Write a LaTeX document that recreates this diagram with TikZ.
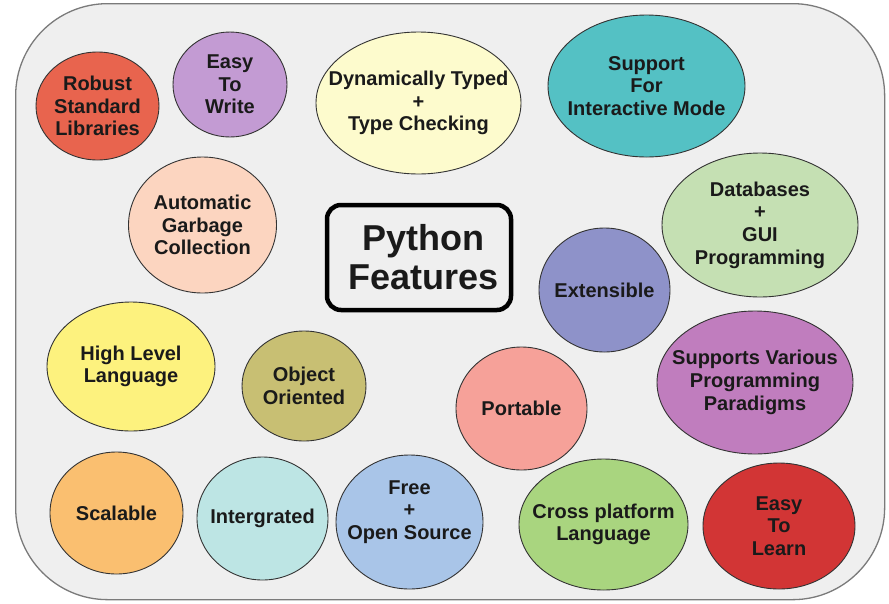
\documentclass[tikz,border=0pt]{standalone}
\usepackage{fontspec}
\setmainfont{Liberation Sans}
\usetikzlibrary{shapes.geometric}

% bubble fill colours
\definecolor{cRobust}{HTML}{E8644E}
\definecolor{cWrite}{HTML}{C39BD3}
\definecolor{cDyn}{HTML}{FDFBCD}
\definecolor{cInter}{HTML}{54C1C4}
\definecolor{cDB}{HTML}{C5E0B3}
\definecolor{cGarb}{HTML}{FCD5C0}
\definecolor{cExt}{HTML}{8E92C9}
\definecolor{cHigh}{HTML}{FDF27E}
\definecolor{cObj}{HTML}{C8BF73}
\definecolor{cPort}{HTML}{F6A199}
\definecolor{cPara}{HTML}{C07DBE}
\definecolor{cScal}{HTML}{FABF70}
\definecolor{cInteg}{HTML}{BDE5E4}
\definecolor{cFree}{HTML}{A9C5E8}
\definecolor{cCross}{HTML}{A9D57F}
\definecolor{cLearn}{HTML}{D23535}
\definecolor{panel}{HTML}{EFEFEF}
\definecolor{panelline}{HTML}{7A7A7A}
\definecolor{ink}{HTML}{1A1A1A}

\tikzset{
  bubble/.style n args={3}{ellipse, draw=black!80, line width=0.9pt,
    fill=#1, inner sep=0pt, outer sep=0pt,
    minimum width=#2, minimum height=#3},
  bubtext/.style={align=center, text=ink, inner sep=0pt,
    font=\fontsize{20}{22.7}\selectfont\bfseries},
  titletext/.style={align=center, text=ink, inner sep=0pt,
    font=\fontsize{36}{39}\selectfont\bfseries},
}

\begin{document}
\begin{tikzpicture}[x=1pt, y=-1pt]
\useasboundingbox (0,0) rectangle (889,603);

% background panel
\node[draw=panelline, fill=panel, line width=1.3pt, rounded corners=92pt,
      minimum width=869pt, minimum height=596pt, inner sep=0pt, anchor=north west]
      (panel) at (15,3) {};

% title box
\node[draw=black, line width=4.5pt, rounded corners=14pt, fill=panel,
      minimum width=184pt, minimum height=105pt, inner sep=0pt,
      label={[titletext, xshift=4.5pt]center:Python\\Features}]
      (title) at (419,257.5) {};

% feature bubbles
\node[bubble={cRobust}{123pt}{108pt}, label={[bubtext]center:Robust\\Standard\\Libraries}] (robust) at (97.5,106) {};
\node[bubble={cWrite}{114pt}{105pt}, label={[bubtext]center:Easy\\To\\Write}] (write) at (230,84.5) {};
\node[bubble={cDyn}{205pt}{142pt}, label={[bubtext]center:Dynamically Typed\\+\\Type Checking}] (dyn) at (418.5,103) {};
\node[bubble={cInter}{197pt}{142pt}, label={[bubtext]center:Support\\For\\Interactive Mode}] (interactive) at (646.5,86) {};
\node[bubble={cDB}{196pt}{144pt}, label={[bubtext]center:Databases\\+\\GUI\\Programming}] (db) at (760,225) {};
\node[bubble={cGarb}{148pt}{136pt}, label={[bubtext]center:Automatic\\Garbage\\Collection}] (garbage) at (202.5,225) {};
\node[bubble={cExt}{131pt}{124pt}, label={[bubtext]center:Extensible}] (ext) at (604.5,290) {};
\node[bubble={cHigh}{168pt}{129pt}, label={[bubtext]center:High Level\\Language}] (high) at (131,366.5) {};
\node[bubble={cObj}{124pt}{110pt}, label={[bubtext]center:Object\\Oriented}] (obj) at (304,386) {};
\node[bubble={cPort}{131pt}{123pt}, label={[bubtext]center:Portable}] (portable) at (521.5,408.5) {};
\node[bubble={cPara}{196pt}{143pt}, label={[bubtext]center:Supports Various\\Programming\\Paradigms}] (paradigms) at (755,382.5) {};
\node[bubble={cScal}{133pt}{122pt}, label={[bubtext]center:Scalable}] (scalable) at (116.5,513) {};
\node[bubble={cInteg}{131pt}{123pt}, label={[bubtext]center:Intergrated}] (integrated) at (262.5,518.5) {};
\node[bubble={cFree}{147pt}{134pt}, label={[bubtext, yshift=10pt]center:Free\\+\\Open Source}] (free) at (409.5,522) {};
\node[bubble={cCross}{169pt}{131pt}, label={[bubtext]center:Cross platform\\Language}] (cross) at (603.5,524.5) {};
\node[bubble={cLearn}{152pt}{126pt}, label={[bubtext]center:Easy\\To\\Learn}] (learn) at (779,526) {};
\end{tikzpicture}
\end{document}
